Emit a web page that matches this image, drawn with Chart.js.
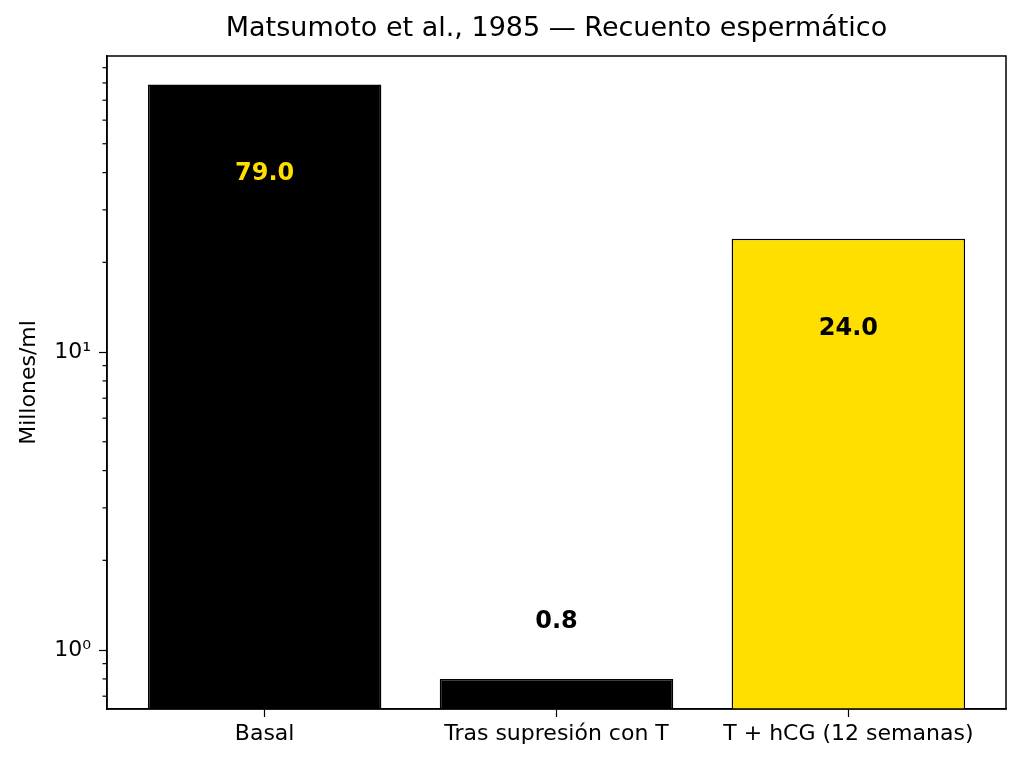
<!DOCTYPE html>
<html>
<head>
<meta charset="utf-8">
<title>Matsumoto et al., 1985</title>
<script src="https://cdn.jsdelivr.net/npm/chart.js@4.4.1/dist/chart.umd.min.js"></script>
<style>
  html, body { margin: 0; padding: 0; background: #fff; }
  #wrap { width: 1024px; height: 764px; }
</style>
</head>
<body>
<div id="wrap"><canvas id="grafica" width="1024" height="764"></canvas></div>
<script>
// datos del gráfico
const categorias = ["Basal", "Tras supresión con T", "T + hCG (12 semanas)"];
const posiciones = [0, 1, 2];
const recuento = [79.0, 0.8, 24.0];
const coloresBarra = ["#000000", "#000000", "#FFDF00"];
const coloresEtiqueta = ["#FFDF00", "#000000", "#000000"];

// ticks del eje y (log)
const ticksMayores = [1, 10];
const etiquetasMayores = ["10\u2070", "10\u00B9"];
const ticksMenores = [0.7, 0.8, 0.9, 2, 3, 4, 5, 6, 7, 8, 9, 20, 30, 40, 50, 60, 70, 80, 90];

const titulo = "Matsumoto et al., 1985 \u2014 Recuento espermático";
const fuente = "'DejaVu Sans', sans-serif";

// título centrado sobre el área del gráfico, marco completo y ticks menores cortos
const marcoPlugin = {
  id: "marco",
  afterDraw(chart) {
    const ctx = chart.ctx;
    const a = chart.chartArea;
    const y = chart.scales.y;
    ctx.save();
    ctx.fillStyle = "#000";
    ctx.font = "27px " + fuente;
    ctx.textAlign = "center";
    ctx.textBaseline = "middle";
    ctx.fillText(titulo, (a.left + a.right) / 2, 29);

    ctx.strokeStyle = "#000";
    ctx.lineWidth = 1.5;
    ctx.strokeRect(a.left, a.top, a.right - a.left, a.bottom - a.top);
    ctx.lineWidth = 1.2;
    ticksMenores.forEach(v => {
      const py = y.getPixelForValue(v);
      if (py < a.top || py > a.bottom) return;
      ctx.beginPath();
      ctx.moveTo(a.left, py);
      ctx.lineTo(a.left - 4.5, py);
      ctx.stroke();
    });
    ctx.restore();
  }
};

// etiquetas de valor
const etiquetasPlugin = {
  id: "etiquetas",
  afterDatasetsDraw(chart) {
    const ctx = chart.ctx;
    const x = chart.scales.x;
    const y = chart.scales.y;
    ctx.save();
    ctx.font = "bold 24px " + fuente;
    ctx.textAlign = "center";
    ctx.textBaseline = "middle";
    recuento.forEach((v, i) => {
      const pos = v > 5 ? v * 0.5 : v * 1.55;
      ctx.fillStyle = coloresEtiqueta[i];
      ctx.fillText(v.toFixed(1), x.getPixelForValue(posiciones[i]), y.getPixelForValue(pos));
    });
    ctx.restore();
  }
};

const config = {
  type: "bar",
  data: {
    datasets: [{
      data: posiciones.map((p, i) => ({ x: p, y: recuento[i] })),
      backgroundColor: coloresBarra,
      borderColor: "#000",
      borderWidth: 1.5,
      borderSkipped: "bottom",
      categoryPercentage: 1,
      barPercentage: 0.8
    }]
  },
  options: {
    responsive: false,
    animation: false,
    devicePixelRatio: 1,
    layout: { padding: { left: 0, right: 18, top: 56, bottom: 0 } },
    plugins: {
      legend: { display: false },
      tooltip: { enabled: false },
      title: { display: false }
    },
    scales: {
      x: {
        type: "linear",
        min: -0.54,
        max: 2.54,
        bounds: "data",
        offset: false,
        afterBuildTicks(scale) {
          scale.ticks = posiciones.map(v => ({ value: v }));
        },
        afterFit(scale) { scale.height = 55; },
        ticks: {
          color: "#000",
          font: { family: fuente, size: 22 },
          padding: 4,
          maxRotation: 0,
          autoSkip: false,
          callback: v => categorias[v]
        },
        grid: { display: true, offset: false, drawOnChartArea: false, drawTicks: true, tickLength: 8, tickColor: "#000", tickWidth: 1.2 },
        border: { display: true, color: "#000", width: 1.5 }
      },
      y: {
        type: "logarithmic",
        min: 0.634,
        max: 98.5,
        bounds: "data",
        afterBuildTicks(scale) {
          scale.ticks = ticksMayores.map(v => ({ value: v, major: true }));
        },
        afterFit(scale) { scale.width = 107; },
        ticks: {
          color: "#000",
          font: { family: fuente, size: 22 },
          padding: 8,
          autoSkip: false,
          callback: v => {
            const i = ticksMayores.indexOf(v);
            return i >= 0 ? etiquetasMayores[i] : "";
          }
        },
        grid: { display: true, offset: false, drawOnChartArea: false, drawTicks: true, tickLength: 8, tickColor: "#000", tickWidth: 1.2 },
        border: { display: true, color: "#000", width: 1.5 },
        title: {
          display: true,
          text: "Millones/ml",
          color: "#000",
          font: { family: fuente, size: 22 },
          padding: { top: 16, bottom: 0 }
        }
      }
    }
  },
  plugins: [marcoPlugin, etiquetasPlugin]
};

new Chart(document.getElementById("grafica"), config);
</script>
</body>
</html>
